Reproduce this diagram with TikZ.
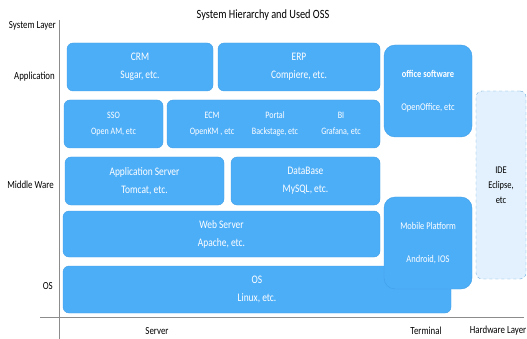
\documentclass[tikz,border=0pt]{standalone}
\usepackage{fontspec}
\setmainfont{Carlito}[FakeStretch=0.82]
\usepackage{tikz}
\usetikzlibrary{positioning}

\definecolor{boxblue}{HTML}{4DAEF8}
\definecolor{boxedge}{HTML}{3F9EE6}
\definecolor{idefill}{HTML}{E2F1FD}
\definecolor{ideedge}{HTML}{6AA8DA}
\definecolor{axisgray}{HTML}{8C8C8C}

\begin{document}
\begin{tikzpicture}[x=1pt,y=-1pt]
    \tikzset{LayerBox/.style = {draw=boxedge,
        fill  = boxblue,
        text  = white,
        rounded corners = 6pt,
        inner sep = 0pt,
        align = center,
        font = \fontsize{11.5}{18}\selectfont},
      SmallBox/.style = {LayerBox,
        font = \fontsize{9.8}{16}\selectfont},
      RoundBox/.style = {LayerBox,
        rounded corners = 11pt,
        font = \fontsize{10.3}{16}\selectfont},
      AxisLabel/.style = {font=\fontsize{10.8}{12}\selectfont, inner sep=0pt}}
    \useasboundingbox (0,0) rectangle (527,339);
    % title
    \node[font=\fontsize{12.6}{14}\selectfont] (title) at (263,15) {System Hierarchy and Used OSS};
    % axes
    \coordinate (ytop) at (59,20);
    \coordinate (ybot) at (59,339);
    \coordinate (xleft) at (40,317);
    \coordinate (xright) at (524,317);
    \draw[axisgray, line width=1pt] (ytop) -- (ybot);
    \draw[axisgray, line width=1pt] (xleft) -- (xright);
    % layer labels
    \node[AxisLabel, anchor=east] (syslayer) at (56,26) {System Layer};
    \node[AxisLabel, anchor=east] (applayer) at (55,77) {Application};
    \node[AxisLabel, anchor=east] (midlayer) at (54,185) {Middle Ware};
    \node[AxisLabel, anchor=east] (oslayer) at (53,286) {OS};
    \node[AxisLabel] (server) at (157,331) {Server};
    \node[AxisLabel] (terminal) at (426,331) {Terminal};
    \node[AxisLabel, anchor=east] (hardware) at (526.5,331) {Hardware Layer};
    % application layer
    \node[LayerBox, minimum width=146, minimum height=48] (crm) at (140,67) {CRM\\Sugar, etc.};
    \node[LayerBox, minimum width=162, minimum height=48] (erp) at (299,67) {ERP\\Compiere, etc.};
    \node[SmallBox, minimum width=99, minimum height=48] (sso) at (113.5,124) {SSO\\Open AM, etc};
    \node[LayerBox, minimum width=213, minimum height=48] (ecmbox) at (273.5,124) {};
    \node[SmallBox, draw=none, fill=none] (ecm) at (212,124) {ECM\\OpenKM , etc};
    \node[SmallBox, draw=none, fill=none] (portal) at (275,124) {Portal\\Backstage, etc};
    \node[SmallBox, draw=none, fill=none] (bi) at (341,124) {BI\\Grafana, etc};
    \node[RoundBox, minimum width=88, minimum height=92] (office) at (428,91) {\textbf{office software}\\[17pt]OpenOffice, etc};
    % middle ware
    \node[LayerBox, minimum width=159, minimum height=48] (appserver) at (144.5,181) {Application Server\\Tomcat, etc.};
    \node[LayerBox, minimum width=149, minimum height=48] (database) at (305.5,181) {DataBase\\MySQL, etc.};
    \node[LayerBox, minimum width=317, minimum height=46] (webserver) at (221.5,234) {Web Server\\Apache, etc.};
    % os
    \node[LayerBox, minimum width=388, minimum height=47] (os) at (257,289.5) {OS\\Linux, etc.};
    \node[RoundBox, minimum width=88, minimum height=92] (mobile) at (428,243) {Mobile Platform\\[17pt]Android, IOS};
    % hardware
    \node[LayerBox, draw=ideedge, fill=idefill, text=black, dashed, minimum width=50, minimum height=188,
      font=\fontsize{10.3}{15}\selectfont] (ide) at (501,185) {IDE\\Eclipse,\\etc};
\end{tikzpicture}
\end{document}
